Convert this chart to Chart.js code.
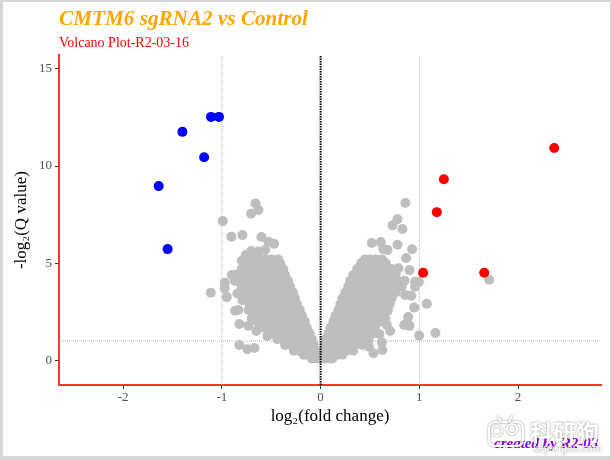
<!DOCTYPE html>
<html lang="en">
<head>
<meta charset="UTF-8">
<title>CMTM6 sgRNA2 vs Control</title>
<style>
  html, body { margin: 0; padding: 0; width: 612px; height: 460px; overflow: hidden; background: #d6d6d6; }
  #frame { position: absolute; left: 3px; top: 2px; width: 607px; height: 454px; background: #fff; }
  #myChart { position: absolute; left: 0; top: 0; }
</style>
</head>
<body>
<div id="frame"></div>
<canvas id="myChart" width="612" height="460"></canvas>
<script src="https://cdn.jsdelivr.net/npm/chart.js"></script>
<script>
const xTicks = [-2, -1, 0, 1, 2]
const yTicks = [0, 5, 10, 15]
const xRange = [-2.65, 2.84]
const yRange = [-1.26, 15.7]

const bluePoints = [[-1.64, 8.97], [-1.55, 5.73], [-1.40, 11.76], [-1.18, 10.45], [-1.11, 12.53], [-1.03, 12.53]]
const redPoints = [[1.038, 4.51], [1.177, 7.63], [1.248, 9.32], [1.657, 4.51], [2.366, 10.93]]

// grey points that stand apart from the main mass
const greyOutliersLeft = [
  [-.66, 8.08], [-.63, 7.74], [-.704, 7.55], [-.991, 7.17], [-.904, 6.37], [-.792, 6.45], [-.6, 6.35],
  [-.529, 6.11], [-.471, 6.0], [-.562, 5.68], [-.63, 5.6], [-.704, 5.63], [-.758, 5.42], [-.798, 5.13],
  [-1.113, 3.49], [-.971, 4.0], [-.971, 3.71], [-.95, 3.26], [-.866, 2.56], [-.833, 2.6], [-.823, 1.88],
  [-.732, 1.79], [-.65, 1.52], [-.823, .8], [-.742, .58], [-.67, .64], [-.54, 1.26], [-.9, 4.4],
  [-.85, 4.35], [-.87, 4.1], [-.843, 3.45], [-.79, 3.1], [-.73, 2.6], [-.697, 2.17]
]
const greyOutliersRight = [
  [1.707, 4.15], [.859, 8.1], [.778, 7.27], [.728, 6.95], [.829, 6.76], [.519, 6.04], [.61, 6.09],
  [.677, 5.68], [.636, 5.72], [.778, 5.95], [.927, 5.72], [.866, 5.27], [.9, 4.65], [.788, 4.74],
  [.711, 4.65], [.995, 4.04], [.957, 4.05], [.957, 3.8], [.917, 3.33], [.856, 3.37], [1.076, 2.92],
  [.947, 2.72], [.887, 2.24], [.846, 1.83], [.9, 1.79], [.704, 1.52], [.67, 1.83], [.596, 1.36],
  [.519, 1.36], [.485, 1.05], [.62, .92], [.626, .54], [.535, .37], [.491, .71], [.998, 1.28],
  [1.163, 1.41], [.677, 2.55], [.653, 2.18], [.5, 1.83]
]

// main mass, read row by row
const massRowY = [.1, .3, .5, .8, 1.1, 1.4, 1.7, 2.0, 2.3, 2.6, 2.9, 3.2, 3.5, 3.8, 4.1, 4.4, 4.7, 5.0, 5.2]
const massLeftX = [
  [-.01, -.05, -.09],
  [-.03, -.08, -.13, -.17],
  [-.05, -.1, -.16, -.22, -.27],
  [-.07, -.12, -.18, -.24, -.3, -.36],
  [-.09, -.15, -.21, -.27, -.33, -.39, -.44],
  [-.11, -.17, -.23, -.29, -.35, -.41, -.47, -.52],
  [-.14, -.2, -.26, -.32, -.38, -.44, -.5, -.55, -.58],
  [-.16, -.22, -.28, -.34, -.4, -.46, -.52, -.58, -.64],
  [-.19, -.25, -.31, -.37, -.43, -.49, -.55, -.61, -.68],
  [-.21, -.27, -.33, -.39, -.45, -.51, -.57, -.63, -.7],
  [-.24, -.3, -.36, -.42, -.48, -.54, -.6, -.66, -.72],
  [-.26, -.32, -.38, -.44, -.5, -.56, -.62, -.68, -.76],
  [-.28, -.34, -.4, -.46, -.52, -.58, -.64, -.7, -.78],
  [-.31, -.37, -.43, -.49, -.55, -.61, -.67, -.73, -.8],
  [-.33, -.39, -.45, -.51, -.57, -.63, -.69, -.75, -.84],
  [-.36, -.42, -.48, -.54, -.6, -.66, -.72, -.78, -.86],
  [-.38, -.44, -.5, -.56, -.62, -.68, -.74, -.8],
  [-.41, -.46, -.52, -.58, -.64, -.7, -.76],
  [-.43, -.5, -.56, -.62, -.68]
]
const massRightX = [
  [.01, .05, .09, .12],
  [.02, .07, .12, .17, .22],
  [.03, .08, .14, .2, .26, .33],
  [.04, .1, .16, .22, .28, .34, .42],
  [.05, .11, .17, .23, .29, .35, .41, .46],
  [.08, .14, .2, .26, .32, .38, .44, .5],
  [.1, .16, .22, .28, .34, .4, .46, .55],
  [.13, .19, .25, .31, .37, .43, .49, .55, .6],
  [.15, .21, .27, .33, .39, .45, .51, .57, .64],
  [.18, .24, .3, .36, .42, .48, .54, .6, .68],
  [.2, .26, .32, .38, .44, .5, .56, .62, .7],
  [.22, .28, .34, .4, .46, .52, .58, .64, .72],
  [.25, .31, .37, .43, .49, .55, .61, .67, .76],
  [.28, .34, .4, .46, .52, .58, .64, .7, .76, .82],
  [.3, .36, .42, .48, .54, .6, .66, .72, .78, .85],
  [.33, .39, .45, .51, .57, .63, .69, .76],
  [.37, .43, .49, .55, .61, .67, .72],
  [.41, .47, .53, .59, .66],
  [.45, .5, .56, .62]
]

const hLineY = 1
const vLineX = [-1, 1]
const zeroLineX = 0

const toPoints = pairs => pairs.map(p => ({ x: p[0], y: p[1] }))
const rowsToPoints = rows => rows.flatMap((xs, i) => xs.map(x => ({ x: x, y: massRowY[i] })))
const pointSet = (data, color, order) => ({
  data: data, backgroundColor: color, borderColor: color, pointRadius: 5, pointBorderWidth: 0, showLine: false, order: order
})
const refLine = (data, color, dash, width, order) => ({
  data: data, borderColor: color, borderDash: dash, borderWidth: width, pointRadius: 0, showLine: true, order: order
})

const tickFont = { family: 'Liberation Serif', size: 13 }
const labelFont = { family: 'Liberation Serif', size: 17 }

// watermark and credit in the bottom right corner
const cornerText = {
  id: 'cornerText',
  afterDraw(chart) {
    const c = chart.ctx
    c.save()
    c.textBaseline = 'alphabetic'
    c.font = 'italic bold 15px "Liberation Serif"'
    c.fillStyle = '#8a00e0'
    c.fillText('created by R2-03', 494, 448)
    c.shadowColor = 'rgba(0,0,0,.5)'
    c.shadowBlur = 2
    c.fillStyle = '#fff'
    c.font = 'bold 23px "Noto Sans CJK SC"'
    c.fillText('科研狗', 530, 441)
    c.font = '10px "Noto Sans"'
    c.fillText('keyangou.com', 533, 452)
    // small mascot of the watermark
    c.strokeStyle = '#fff'
    c.lineWidth = 2
    c.beginPath()
    c.roundRect(489, 422, 34, 24, 6)
    c.stroke()
    for (const eye of [[497, 431], [512, 429]]) {
      c.beginPath()
      c.arc(eye[0], eye[1], 5, 0, Math.PI * 2)
      c.stroke()
    }
    c.beginPath()
    c.moveTo(501, 422)
    c.lineTo(498, 416)
    c.moveTo(509, 422)
    c.lineTo(512, 416)
    c.stroke()
    c.restore()
  }
}

new Chart(document.getElementById('myChart'), {
  type: 'scatter',
  plugins: [cornerText],
  data: {
    datasets: [
      refLine([{ x: xRange[0], y: hLineY }, { x: xRange[1], y: hLineY }], '#b5b5b5', [1, 1], 1, 9),
      refLine([{ x: vLineX[0], y: yRange[0] }, { x: vLineX[0], y: yRange[1] }], '#b5b5b5', [1, 1], 1, 9),
      refLine([{ x: vLineX[1], y: yRange[0] }, { x: vLineX[1], y: yRange[1] }], '#b5b5b5', [1, 1], 1, 9),
      pointSet(rowsToPoints(massLeftX), '#bebebe', 5),
      pointSet(rowsToPoints(massRightX), '#bebebe', 5),
      pointSet(toPoints(greyOutliersLeft), '#bebebe', 5),
      pointSet(toPoints(greyOutliersRight), '#bebebe', 5),
      pointSet(toPoints(bluePoints), '#0000ff', 3),
      pointSet(toPoints(redPoints), '#ff0000', 3),
      refLine([{ x: zeroLineX, y: yRange[0] }, { x: zeroLineX, y: yRange[1] }], '#000', [1.5, 1], 2, 1)
    ]
  },
  options: {
    responsive: false,
    animation: false,
    layout: { padding: { left: 11, right: 11, top: 1, bottom: 33 } },
    plugins: {
      legend: { display: false },
      tooltip: { enabled: false },
      title: {
        display: true, text: 'CMTM6 sgRNA2 vs Control', align: 'start', fullSize: false, color: '#ffa500',
        font: { family: 'Liberation Serif', size: 21.2, style: 'italic', weight: 'bold' },
        padding: { top: 6, bottom: 2 }
      },
      subtitle: {
        display: true, text: 'Volcano Plot-R2-03-16', align: 'start', fullSize: false, color: '#ff0000',
        font: { family: 'Liberation Serif', size: 14 },
        padding: { top: 0, bottom: 4 }
      }
    },
    scales: {
      x: {
        type: 'linear', min: xRange[0], max: xRange[1],
        afterBuildTicks: s => { s.ticks = xTicks.map(v => ({ value: v })) },
        afterFit: s => { s.height = 42 },
        border: { color: '#ff3333', width: 2 },
        grid: { drawOnChartArea: false, color: '#333', tickLength: 4 },
        ticks: { color: '#4d4d4d', font: tickFont, padding: 1, maxRotation: 0 },
        title: { display: true, text: 'log₂(fold change)', color: '#000', font: labelFont, padding: { top: 1, bottom: 0 } }
      },
      y: {
        type: 'linear', min: yRange[0], max: yRange[1],
        afterBuildTicks: s => { s.ticks = yTicks.map(v => ({ value: v })) },
        afterFit: s => { s.width = 48 },
        border: { color: '#ff3333', width: 2 },
        grid: { drawOnChartArea: false, color: '#333', tickLength: 4 },
        ticks: { color: '#4d4d4d', font: tickFont, padding: 3 },
        title: { display: true, text: '-log₂(Q value)', color: '#000', font: labelFont, padding: { top: 0, bottom: 4 } }
      }
    }
  }
})
</script>
</body>
</html>
